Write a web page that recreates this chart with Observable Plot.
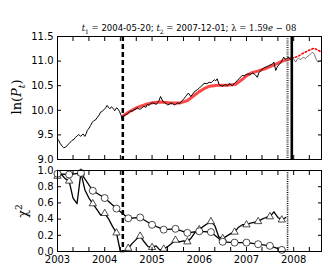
<!DOCTYPE html>
<html>
<head>
<meta charset="utf-8">
<script src="https://cdn.jsdelivr.net/npm/d3@7"></script>
<script src="https://cdn.jsdelivr.net/npm/@observablehq/plot@0.6"></script>
<style>
  html, body { margin: 0; padding: 0; background: #fff; }
  #fig { position: relative; width: 332px; height: 277px; overflow: hidden; font-family: "DejaVu Sans", sans-serif; }
  #fig svg { position: absolute; left: 0; overflow: visible; background: transparent; }
  .lbl { position: absolute; white-space: nowrap; color: #000; }
  .m { font-family: "DejaVu Serif", serif; }
</style>
</head>
<body>
<div id="fig">
  <div class="lbl" id="title" style="left:57px; width:264px; top:22px; text-align:center; font-size:8.5px; line-height:12px;">
    <span class="m"><i>t</i><sub style="font-size:6px">1</sub> = </span>2004-05-20; <span class="m"><i>t</i><sub style="font-size:6px">2</sub> = </span> 2007-12-01; <span class="m">λ = 1.59<i>e</i> − 08</span>
  </div>
  <div class="lbl m" id="ylab1" style="left:18px; top:97px; font-size:13px; transform:translate(-50%,-50%) rotate(-90deg);">ln(<i>P</i><sub style="font-size:9px"><i>t</i></sub>)</div>
  <div class="lbl m" id="ylab2" style="left:22px; top:211px; font-size:13px; transform:translate(-50%,-50%) rotate(-90deg);">χ<sup style="font-size:9px">2</sup></div>
</div>
<script>
// ---- data ----
const t1Label = "2004-05-20";
const t2Label = "2007-12-01";
const dottedMarker = 2007.87;   // dotted vertical line (decimal year)
const solidMarker = 2007.96;    // solid vertical line (decimal year)

const priceYears = [
  2003.00,2003.03,2003.06,2003.10,2003.13,2003.17,2003.21,2003.24,2003.28,2003.31,2003.35,2003.38,2003.42,2003.45,2003.49,2003.52,2003.54,2003.58,2003.61,2003.63,2003.67,2003.70,2003.74,2003.77,2003.80,2003.84,2003.88,2003.91,2003.95,2003.98,
  2004.02,2004.05,2004.08,2004.11,2004.14,2004.16,2004.19,2004.21,2004.24,2004.26,2004.29,2004.31,2004.35,2004.37,2004.40,2004.44,2004.48,2004.52,2004.55,2004.58,2004.62,2004.66,2004.69,2004.73,2004.76,2004.80,2004.83,2004.87,2004.90,2004.94,2004.97,
  2005.01,2005.04,2005.09,2005.12,2005.15,2005.18,2005.23,2005.26,2005.29,2005.33,2005.36,2005.40,2005.43,2005.47,2005.50,2005.54,2005.57,2005.61,2005.64,2005.68,2005.71,2005.77,2005.82,2005.86,2005.89,2005.93,2005.96,
  2006.00,2006.03,2006.07,2006.10,2006.16,2006.21,2006.25,2006.28,2006.32,2006.35,2006.38,2006.42,2006.46,2006.49,2006.53,2006.56,2006.60,2006.63,2006.67,2006.70,2006.74,2006.77,2006.81,2006.84,2006.88,2006.91,2006.95,2006.98,
  2007.02,2007.05,2007.09,2007.12,2007.16,2007.19,2007.23,2007.26,2007.30,2007.34,2007.37,2007.41,2007.44,2007.48,2007.52,2007.55,2007.58,2007.62,2007.65,2007.70,2007.73,2007.76,2007.79,2007.82,2007.85,2007.88,2007.90,2007.94,
  2007.99,2008.04,2008.07,2008.10,2008.15,2008.20,2008.25,2008.28,2008.32,2008.36,2008.39,2008.43,2008.48,2008.51,2008.57
];
const priceValues = [
  9.42,9.38,9.32,9.27,9.24,9.25,9.29,9.32,9.36,9.39,9.41,9.45,9.48,9.51,9.47,9.50,9.52,9.47,9.53,9.59,9.64,9.69,9.76,9.79,9.80,9.85,9.90,9.96,9.98,10.01,
  10.05,10.10,10.06,10.03,10.07,10.06,10.02,9.99,10.04,10.05,10.01,9.98,9.89,9.79,9.89,9.91,9.93,9.96,9.99,9.98,10.01,10.03,10.05,10.02,10.03,10.06,10.08,10.06,10.12,10.10,10.14,
  10.15,10.14,10.12,10.16,10.20,10.28,10.18,10.16,10.14,10.11,10.12,10.15,10.14,10.11,10.12,10.15,10.14,10.16,10.20,10.24,10.28,10.35,10.28,10.33,10.37,10.40,10.42,
  10.45,10.48,10.51,10.55,10.54,10.57,10.56,10.59,10.62,10.60,10.64,10.52,10.50,10.49,10.51,10.52,10.50,10.54,10.52,10.50,10.54,10.57,10.61,10.64,10.68,10.71,10.70,10.72,
  10.74,10.74,10.73,10.76,10.74,10.72,10.67,10.76,10.80,10.84,10.86,10.88,10.89,10.91,10.93,10.94,10.98,10.81,10.88,10.94,10.97,11.03,11.08,11.04,11.05,11.08,11.07,11.03,
  11.06,10.98,11.03,11.06,11.03,11.08,11.05,11.09,11.11,11.15,11.18,11.15,11.03,10.98,11.01
];

const fitYears = [2004.38,2004.50,2004.69,2004.90,2005.04,2005.20,2005.40,2005.60,2005.75,2005.85,2006.00,2006.10,2006.22,2006.40,2006.60,2006.77,2006.90,2007.00,2007.10,2007.25,2007.41,2007.58,2007.76,2007.90,2007.96];
const fitValues = [9.88,9.96,10.06,10.13,10.16,10.17,10.15,10.15,10.20,10.27,10.38,10.44,10.49,10.51,10.51,10.53,10.62,10.70,10.76,10.80,10.85,10.92,11.00,11.04,11.06];
const forecastYears = [2007.96,2008.08,2008.18,2008.32,2008.43,2008.50,2008.57];
const forecastValues = [11.06,11.09,11.15,11.22,11.26,11.23,11.19];

// chi^2, circles: quarterly from 2003-01 (last point has no marker)
const circleDates = ["2003-01-01","2003-04-01","2003-07-01","2003-10-01","2004-01-01","2004-04-01","2004-07-01","2004-10-01","2005-01-01","2005-04-01","2005-07-01","2005-10-01","2006-01-01","2006-04-01","2006-07-01","2006-10-01","2007-01-01","2007-04-01","2007-07-01","2007-10-01","2007-11-08"];
const circleValues = [0.96,0.95,0.97,0.75,0.66,0.53,0.41,0.42,0.33,0.27,0.28,0.23,0.25,0.24,0.12,0.11,0.11,0.09,0.07,0.02,0.00];

// chi^2, triangles: monthly from 2003-01, marker every third month
const triangleValues = [
  0.93,0.95,0.90,0.87,0.66,0.59,0.97,0.76,0.66,0.59,0.52,0.45,
  0.47,0.40,0.31,0.23,0.00,0.00,0.04,0.10,0.15,0.19,0.12,0.06,
  0.05,0.07,0.02,0.03,0.06,0.10,0.14,0.12,0.13,0.12,0.17,0.24,
  0.27,0.31,0.34,0.37,0.32,0.18,0.16,0.19,0.22,0.24,0.30,0.33,
  0.33,0.35,0.36,0.37,0.40,0.42,0.43,0.49,0.42,0.39,0.42
];

const priceTicks = [9.0, 9.5, 10.0, 10.5, 11.0, 11.5];
const chiTicks = [0.0, 0.2, 0.4, 0.6, 0.8, 1.0];
const xStart = "2003-01-01", xEnd = "2008-08-03";

// ---- helpers ----
function fromYear(t) {
  const y = Math.floor(t);
  const s = Date.UTC(y, 0, 1), e = Date.UTC(y + 1, 0, 1);
  return new Date(s + (t - y) * (e - s));
}
const price = priceYears.map((t, i) => ({date: fromYear(t), v: priceValues[i], t}));
const fit = fitYears.map((t, i) => ({date: fromYear(t), v: fitValues[i]}));
const forecast = forecastYears.map((t, i) => ({date: fromYear(t), v: forecastValues[i]}));
const circles = circleDates.map((d, i) => ({date: new Date(d), v: circleValues[i], i}));
const triangles = triangleValues.map((v, i) => ({date: new Date(Date.UTC(2003, i, 1)), v, i}));

const t1 = new Date(t1Label);
const dotted = fromYear(dottedMarker);
const solid = fromYear(solidMarker);
const xDomain = [new Date(xStart), new Date(xEnd)];
const minorTicks = d3.utcMonth.every(4).range(new Date(xStart), new Date(xEnd));
const yearTicks = d3.utcYear.range(new Date("2003-01-01"), new Date("2008-12-31"));
const blank = () => "";

const common = {
  width: 332,
  marginLeft: 57,
  marginRight: 11,
  style: {fontFamily: "DejaVu Sans, sans-serif", fontSize: "10px", background: "transparent", color: "#000", overflow: "visible"}
};

function frameTicks(yTicks) {
  return [
    Plot.axisX({anchor: "bottom", ticks: minorTicks, tickSize: -4, tickFormat: blank, label: null}),
    Plot.axisX({anchor: "top", ticks: minorTicks, tickSize: -4, tickFormat: blank, label: null}),
    Plot.axisY({anchor: "right", ticks: yTicks, tickSize: -4, tickFormat: blank, label: null}),
    Plot.axisY({anchor: "left", ticks: yTicks, tickSize: -4, tickPadding: 8, tickFormat: d => d.toFixed(1), fontSize: 10, label: null}),
    Plot.frame({stroke: "#000", strokeWidth: 1})
  ];
}

const upper = Plot.plot({
  ...common,
  height: 168,
  marginTop: 36,
  marginBottom: 9,
  x: {type: "utc", domain: xDomain, label: null},
  y: {domain: [9, 11.5], label: null},
  marks: [
    Plot.line(fit, {x: "date", y: "v", stroke: "#ff0000", strokeOpacity: 0.72, strokeWidth: 3}),
    Plot.line(forecast, {x: "date", y: "v", stroke: "#ff0000", strokeWidth: 1.6, strokeDasharray: "1.5,2.2"}),
    Plot.line(price.filter(d => d.t <= solidMarker), {x: "date", y: "v", stroke: "#000", strokeWidth: 1}),
    Plot.line(price.filter(d => d.t >= 2007.94), {x: "date", y: "v", stroke: "#555", strokeWidth: 0.8}),
    Plot.ruleX([t1], {stroke: "#000", strokeWidth: 2.5, strokeDasharray: "5,3"}),
    Plot.ruleX([dotted], {stroke: "#444", strokeWidth: 2.2, strokeDasharray: "1,1.2"}),
    Plot.ruleX([solid], {stroke: "#000", strokeWidth: 2.6}),
    ...frameTicks(priceTicks)
  ]
});
upper.style.top = "0px";

const lower = Plot.plot({
  ...common,
  height: 115,
  marginTop: 8,
  marginBottom: 26,
  x: {type: "utc", domain: xDomain, label: null},
  y: {domain: [0, 1], label: null},
  marks: [
    Plot.line(circles, {x: "date", y: "v", stroke: "#000", strokeWidth: 1.3}),
    Plot.line(triangles, {x: "date", y: "v", stroke: "#000", strokeWidth: 1.3}),
    Plot.dot(triangles.filter(d => d.i % 3 === 0 && d.i < 58), {x: "date", y: "v", symbol: "triangle", r: 2.7, fill: "#fff", stroke: "#000", strokeWidth: 0.7}),
    Plot.dot(circles.filter(d => d.i < circles.length - 1), {x: "date", y: "v", r: 3.5, fill: "#fff", stroke: "#000", strokeWidth: 0.7}),
    Plot.ruleX([t1], {stroke: "#000", strokeWidth: 2.5, strokeDasharray: "5,3"}),
    Plot.ruleX([dotted], {stroke: "#000", strokeWidth: 1.6, strokeDasharray: "1,1.2"}),
    ...frameTicks(chiTicks),
    Plot.axisX({anchor: "bottom", ticks: yearTicks, tickSize: 0, tickPadding: 4, tickFormat: "%Y", fontSize: 10, label: null})
  ]
});
lower.style.top = "162px";

const fig = document.getElementById("fig");
fig.insertBefore(lower, fig.firstChild);
fig.insertBefore(upper, fig.firstChild);
</script>
</body>
</html>
